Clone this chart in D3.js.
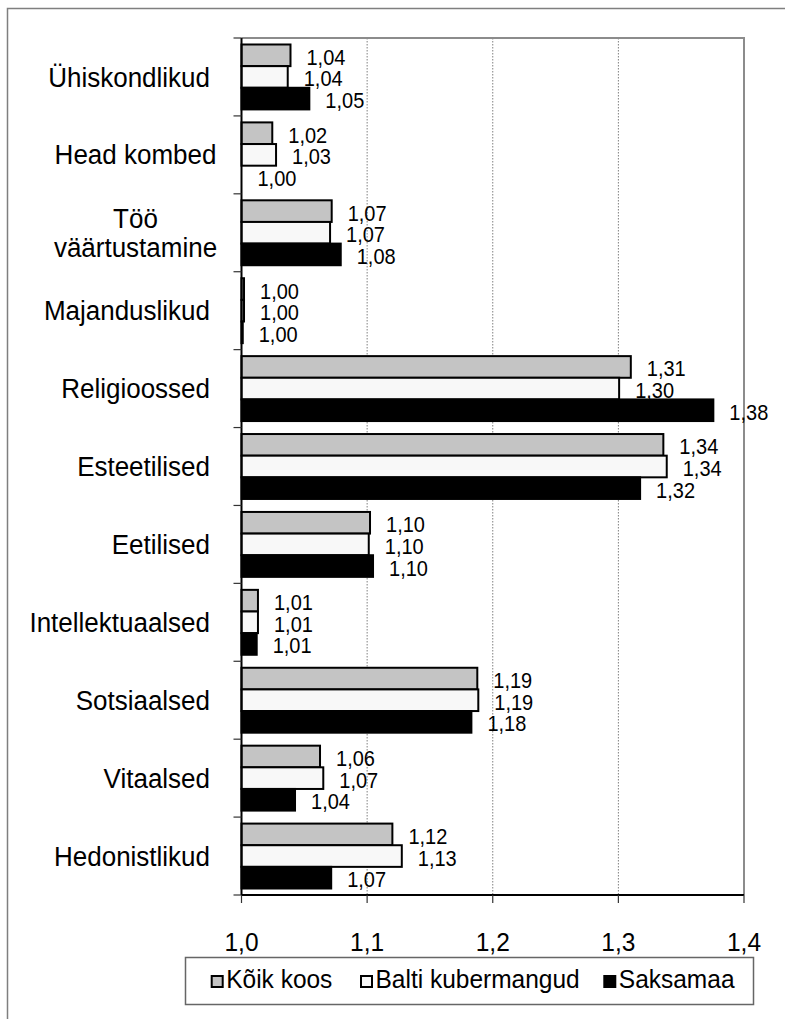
<!DOCTYPE html>
<html>
<head>
<meta charset="utf-8">
<script src="https://cdn.jsdelivr.net/npm/d3@7"></script>
<style>
  html, body { margin: 0; padding: 0; background: #fff; }
  text { font-family: "Liberation Sans", Arial, sans-serif; fill: #000; }
</style>
</head>
<body>
<svg id="chart" width="785" height="1019"></svg>
<script>
const categories = ["Ühiskondlikud", "Head kombed", "Töö väärtustamine", "Majanduslikud", "Religioossed",
  "Esteetilised", "Eetilised", "Intellektuaalsed", "Sotsiaalsed", "Vitaalsed", "Hedonistlikud"];
const seriesNames = ["Kõik koos", "Balti kubermangud", "Saksamaa"];
const koikKoos         = [1.039, 1.0245, 1.0718, 1.002, 1.3099, 1.3358, 1.1023, 1.0131, 1.1877, 1.0625, 1.1201];
const baltiKubermangud = [1.0368, 1.0275, 1.0705, 1.002, 1.3006, 1.3385, 1.1013, 1.0131, 1.1885, 1.0651, 1.1276];
const saksamaa         = [1.054, 1.0, 1.079, 1.001, 1.3756, 1.3173, 1.1047, 1.0121, 1.183, 1.0426, 1.0714];
const xTicks = [1.0, 1.1, 1.2, 1.3, 1.4];
const seriesColors = ["#c4c4c4", "#f8f8f8", "#000000"];

const seriesValues = [koikKoos, baltiKubermangud, saksamaa];
const data = categories.map((c, i) => ({
  cat: c,
  vals: seriesNames.map((s, j) => ({ s, j, v: seriesValues[j][i] }))
}));

const svg = d3.select("#chart");
const SY = 1.07; // slight vertical stretch of the original's text
const fmt = v => d3.format(".2f")(v).replace(".", ",");
const fmt1 = v => d3.format(".1f")(v).replace(".", ",");

// outer frame
svg.append("rect").attr("x", 7.5).attr("y", 8.5).attr("width", 900).attr("height", 1100)
  .attr("fill", "none").attr("stroke", "#7f7f7f").attr("stroke-width", 1.5);

const x = d3.scaleLinear().domain([1.0, 1.4]).range([241.5, 744]);
const y = d3.scaleBand().domain(categories).range([38, 895]).padding(0);
const y1 = d3.scaleBand().domain(seriesNames).range([0, y.bandwidth()]).paddingInner(0).paddingOuter(0.3);

// gridlines
svg.append("g").selectAll("line").data(xTicks.filter(t => t > 1.0 && t < 1.4)).join("line")
  .attr("x1", d => x(d)).attr("x2", d => x(d)).attr("y1", 38).attr("y2", 895)
  .attr("stroke", "#808080").attr("stroke-width", 1).attr("stroke-dasharray", "1.5,1.5");

// plot border (top & right)
svg.append("path")
  .attr("d", `M${x(1.0)},38H${x(1.4)}V895`)
  .attr("fill", "none").attr("stroke", "#8c8c8c").attr("stroke-width", 2);

// bars
const groups = svg.append("g").selectAll("g").data(data).join("g")
  .attr("transform", d => `translate(0,${y(d.cat)})`);
groups.selectAll("rect").data(d => d.vals).join("rect")
  .attr("x", x(1.0))
  .attr("y", d => y1(d.s))
  .attr("width", d => x(d.v) - x(1.0))
  .attr("height", y1.bandwidth())
  .attr("fill", d => seriesColors[d.j])
  .attr("stroke", "#000").attr("stroke-width", 2);

// value labels
groups.selectAll("text").data(d => d.vals).join("text")
  .attr("transform", d => `translate(${x(d.v) + 16},${y1(d.s) + y1.bandwidth() / 2 + 9.5}) scale(1,${SY})`)
  .attr("font-size", "20px")
  .text(d => fmt(d.v));

// left axis
svg.append("line").attr("x1", x(1.0)).attr("x2", x(1.0)).attr("y1", 38).attr("y2", 895)
  .attr("stroke", "#000").attr("stroke-width", 2);
const bounds = categories.map(c => y(c)).concat([895]);
svg.append("g").selectAll("line").data(bounds).join("line")
  .attr("x1", 233.5).attr("x2", x(1.0)).attr("y1", d => d).attr("y2", d => d)
  .attr("stroke", "#333").attr("stroke-width", 1.2);

// bottom axis
svg.append("line").attr("x1", x(1.0)).attr("x2", x(1.4)).attr("y1", 895).attr("y2", 895)
  .attr("stroke", "#000").attr("stroke-width", 2);
svg.append("g").selectAll("line").data(xTicks).join("line")
  .attr("x1", d => x(d)).attr("x2", d => x(d)).attr("y1", 895).attr("y2", 903)
  .attr("stroke", "#333").attr("stroke-width", 1.2);
svg.append("g").selectAll("text").data(xTicks).join("text")
  .attr("transform", d => `translate(${x(d)},951) scale(1,${SY})`)
  .attr("text-anchor", "middle").attr("font-size", "24.5px")
  .text(d => fmt1(d));

// category labels
const catG = svg.append("g");
categories.forEach(c => {
  const cy = y(c) + y.bandwidth() / 2;
  const hasSpace = c.includes(" ");
  const lines = (hasSpace && c.length > 12) ? c.split(" ") : [c];
  const lh = 29;
  lines.forEach((ln, k) => {
    const by = cy + 9.6 + (k - (lines.length - 1) / 2) * lh;
    catG.append("text")
      .attr("transform", `translate(${hasSpace ? 135.5 : 210},${by}) scale(1,${SY})`)
      .attr("text-anchor", hasSpace ? "middle" : "end")
      .attr("font-size", "26px")
      .text(ln);
  });
});

// legend
svg.append("rect").attr("x", 185.5).attr("y", 957.5).attr("width", 568).attr("height", 47)
  .attr("fill", "#fff").attr("stroke", "#666").attr("stroke-width", 1.5);
const legendX = [210.7, 360, 603.3];
seriesNames.forEach((s, j) => {
  const lx = legendX[j];
  svg.append("rect").attr("x", lx + 1).attr("y", 976).attr("width", 11).attr("height", 11)
    .attr("fill", seriesColors[j]).attr("stroke", "#000").attr("stroke-width", 2);
  svg.append("text")
    .attr("transform", `translate(${lx + 15.5},987.5) scale(1,${SY})`)
    .attr("font-size", "24.5px")
    .text(s);
});
</script>
</body>
</html>
